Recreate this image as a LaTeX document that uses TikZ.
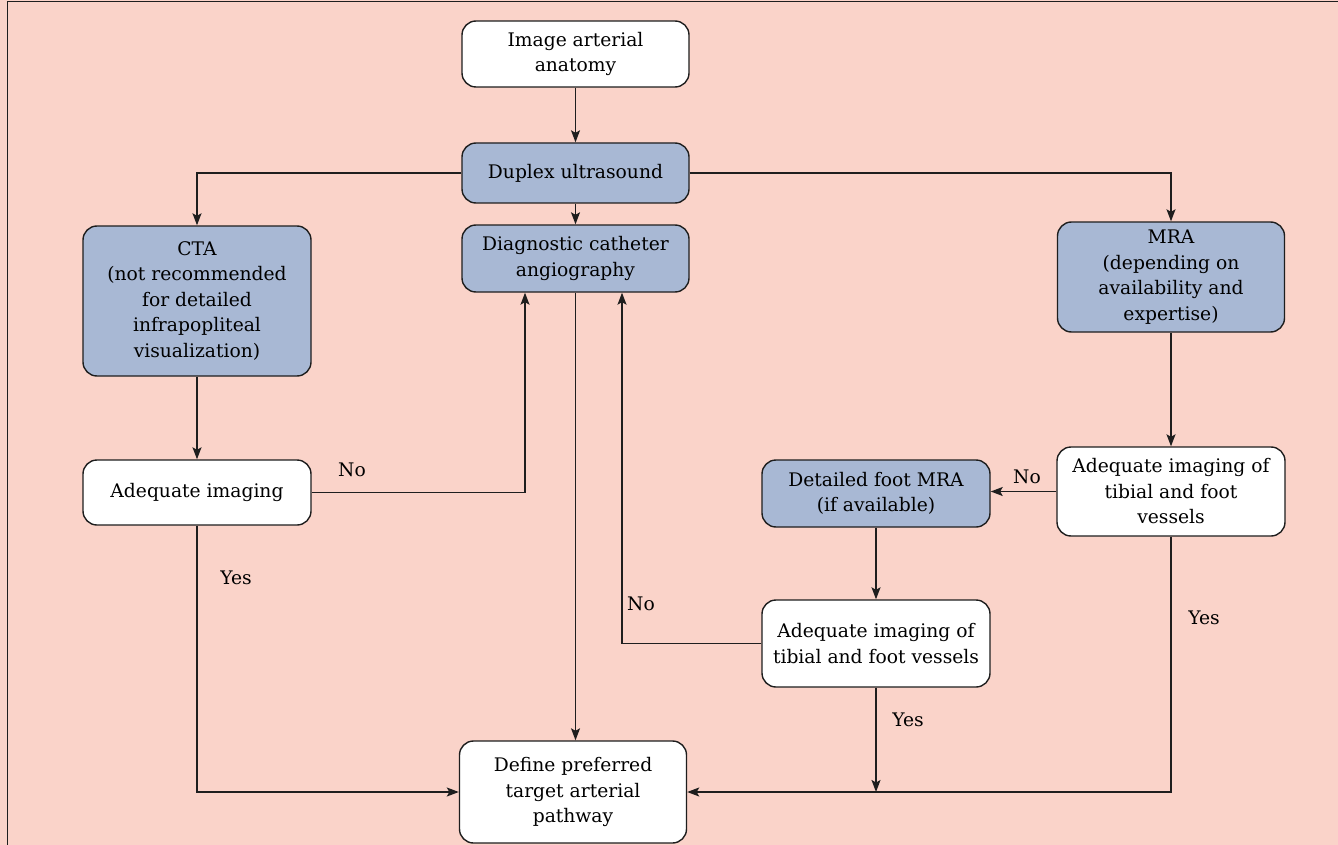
\documentclass[tikz,border=0pt]{standalone}
\usepackage{fontspec}
\setmainfont{DejaVu Serif}
\usetikzlibrary{arrows.meta}
\definecolor{bgpeach}{RGB}{250,211,201}
\definecolor{boxblue}{RGB}{168,184,212}
\definecolor{edge}{RGB}{30,30,30}
\tikzset{
  base/.style={draw=edge, line width=1.4pt, rounded corners=14pt, align=center,
    minimum width=227pt, inner sep=2pt,
    font=\fontsize{18.7}{25.5}\selectfont},
  wbox/.style={base, fill=white},
  bbox/.style={base, fill=boxblue},
  conn/.style={draw=edge, line width=1.4pt, -{Stealth[length=12pt,width=9pt,inset=2.5pt]}},
  lbl/.style={font=\fontsize{18.7}{25.5}\selectfont, inner sep=0pt}
}
\begin{document}
\begin{tikzpicture}[x=1pt,y=-1pt]
\fill[bgpeach] (0,0) rectangle (1338,845);
\useasboundingbox (0,0) rectangle (1338,845);
\draw[edge, line width=1.6pt] (7.5,845) -- (7.5,1.5) -- (1338,1.5);

\node[wbox, minimum height=66pt] (img) at (575.5,54) {Image arterial\\anatomy};
\node[bbox, minimum height=60pt] (dup) at (575.5,173) {Duplex ultrasound};
\node[bbox, minimum height=67pt] (diag) at (575.5,258.5) {Diagnostic catheter\\angiography};
\node[bbox, minimum height=150pt, minimum width=228pt] (cta) at (197,301) {CTA\\(not recommended\\for detailed\\infrapopliteal\\visualization)};
\node[bbox, minimum height=110pt] (mra) at (1171,277) {MRA\\(depending on\\availability and\\expertise)};
\node[wbox, minimum height=65pt, minimum width=228pt] (adq1) at (197,492.5) {Adequate imaging};
\node[bbox, minimum height=67pt, minimum width=228pt] (foot) at (876,493.5) {Detailed foot MRA\\(if available)};
\node[wbox, minimum height=89pt, minimum width=228pt] (adq2) at (1171,491.5) {Adequate imaging of\\tibial and foot\\vessels};
\node[wbox, minimum height=87pt, minimum width=228pt] (adq3) at (876,643.5) {Adequate imaging of\\tibial and foot vessels};
\node[wbox, minimum height=102pt] (def) at (573,792) {Define preferred\\target arterial\\pathway};

\coordinate (diagL) at ([xshift=-50.5pt]diag.south);
\coordinate (diagR) at ([xshift=46.5pt]diag.south);
\coordinate (join) at (adq3.south |- def.east);

\draw[conn] (img) -- (dup);
\draw[conn] (dup.west) -| (cta.north);
\draw[conn] (dup) -- (diag);
\draw[conn] (dup.east) -| (mra.north);
\draw[conn] (cta) -- (adq1);
\draw[conn] (adq1.east) -| (diagL);
\draw[conn] (adq1.south) |- (def.west);
\draw[conn] (diag.south) -- (diag.south |- def.north);
\draw[conn] (mra) -- (adq2);
\draw[conn] (adq2.west) -- (adq2.west -| foot.east);
\draw[conn] (adq2.south) |- (def.east);
\draw[conn] (foot) -- (adq3);
\draw[conn] (adq3.west) -| (diagR);
\draw[conn] (adq3.south) -- (join);

\node[lbl] (no1) at (352,470) {No};
\node[lbl] (yes1) at (236,578) {Yes};
\node[lbl] (no2) at (641,604) {No};
\node[lbl] (no3) at (1027,477) {No};
\node[lbl] (yes2) at (1204,618) {Yes};
\node[lbl] (yes3) at (908,720) {Yes};
\end{tikzpicture}
\end{document}
